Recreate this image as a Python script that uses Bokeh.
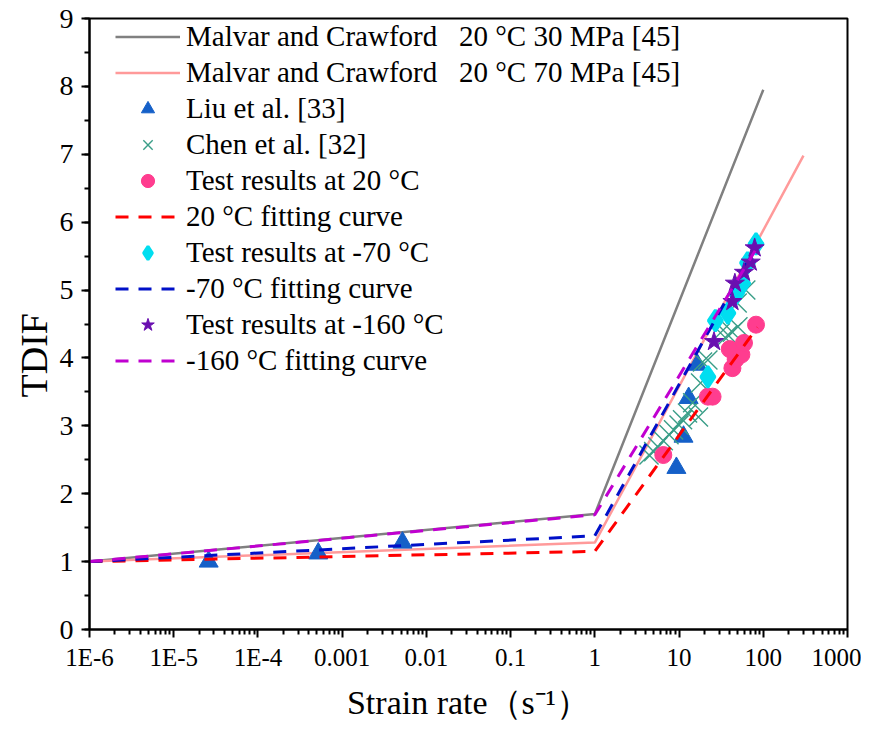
import math
from bokeh.plotting import figure
from bokeh.models import FixedTicker, SingleIntervalTicker, CustomJSTickFormatter, Legend, Title
from bokeh.embed import file_html
from bokeh.resources import INLINE

# ---- data ----
mc30_x = [1e-6, 1, 100]
mc30_y = [1.0, 1.70, 7.95]
mc70_x = [1e-6, 1, 300]
mc70_y = [1.0, 1.28, 6.98]

liu_x = [2.6e-5, 5.2e-4, 5.2e-3, 9.3, 11.3, 13.0, 16.5]
liu_y = [1.0, 1.12, 1.28, 2.38, 2.84, 3.41, 3.90]

chen_x = [4.4, 5.0, 5.6, 6.5, 7.6, 8.6, 10, 11, 12.6, 14.5, 17, 18, 19, 22, 31, 38, 43, 50, 49, 62]
chen_y = [2.57, 2.62, 2.69, 2.78, 2.87, 2.94, 3.01, 3.09, 3.19, 3.34, 3.13, 3.63, 3.94, 3.97,
          4.37, 4.34, 4.38, 4.46, 4.81, 5.00]

t20_x = [6.5, 22, 25, 40, 43, 47, 55, 59, 82]
t20_y = [2.57, 3.43, 3.43, 4.13, 3.85, 3.98, 4.05, 4.22, 4.49]
fit20_x = [1e-6, 1, 85]
fit20_y = [1.0, 1.15, 4.45]

t70_x = [22, 27, 38, 48, 57, 65, 82]
t70_y = [3.72, 4.55, 4.66, 4.95, 5.10, 5.40, 5.68]
fit70_x = [1e-6, 1, 80]
fit70_y = [1.0, 1.38, 5.62]

t160_x = [26, 43, 46, 59, 71, 79]
t160_y = [4.24, 4.83, 5.10, 5.26, 5.41, 5.62]
fit160_x = [1e-6, 1, 80]
fit160_y = [1.0, 1.69, 5.58]

x_ticks = [1e-6, 1e-5, 1e-4, 1e-3, 1e-2, 1e-1, 1, 10, 100, 1000]
x_tick_labels = ["1E-6", "1E-5", "1E-4", "0.001", "0.01", "0.1", "1", "10", "100", "1000"]

FONT = "Liberation Serif"

p = figure(width=861, height=723, x_axis_type="log", x_range=(1e-6, 1000), y_range=(0, 9),
           output_backend="svg", toolbar_location=None,
           min_border_left=89, min_border_right=14, min_border_top=18, min_border_bottom=93)
p.grid.visible = False
p.outline_line_color = "black"
p.outline_line_width = 2
p.background_fill_color = "white"

minor = [m * t for t in x_ticks[:-1] for m in range(2, 10)]
p.xaxis.ticker = FixedTicker(ticks=x_ticks, minor_ticks=minor)
p.xaxis.formatter = CustomJSTickFormatter(args=dict(labels=x_tick_labels),
                                          code="return labels[Math.round(Math.log10(tick)) + 6];")
p.yaxis.ticker = SingleIntervalTicker(interval=1, num_minor_ticks=2)

for ax in (p.xaxis, p.yaxis):
    ax.axis_line_width = 2
    ax.major_tick_line_width = 2
    ax.minor_tick_line_width = 2
    ax.major_tick_in = 0
    ax.major_tick_out = 8
    ax.minor_tick_in = 0
    ax.minor_tick_out = 5
    ax.major_label_text_font = FONT
    ax.major_label_text_color = "black"
    ax.axis_label_text_font = FONT
    ax.axis_label_text_font_style = "normal"
    ax.axis_label_text_color = "black"

p.xaxis.major_label_text_font_size = "25px"
p.yaxis.major_label_text_font_size = "28px"
p.xaxis.axis_label = "Strain rate（s⁻¹）"
p.xaxis.axis_label_text_font_size = "34px"
p.xaxis.axis_label_standoff = 10
p.xaxis.major_label_standoff = 6
p.yaxis.major_label_standoff = 8

# y-axis title, placed lower than centre like the reference
ytitle = Title(text="TDIF", align="left", offset=232, text_font=FONT, text_font_size="38px",
               text_font_style="normal", text_color="black", standoff=4)
p.add_layout(ytitle, "left")

items = []
r = p.line(mc30_x, mc30_y, line_color="#808080", line_width=2.5)
items.append(("Malvar and Crawford \u00a0 20 °C 30 MPa [45]", [r]))
r = p.line(mc70_x, mc70_y, line_color="#ff9a9a", line_width=2.5)
items.append(("Malvar and Crawford \u00a0 20 °C 70 MPa [45]", [r]))
r = p.scatter(liu_x, liu_y, marker="triangle", size=19, fill_color="#1560c8", line_color="#1560c8")
items.append(("Liu et al. [33]", [r]))
r = p.scatter(chen_x, chen_y, marker="x", size=27, line_color="#3a9e88", line_width=1.4)
items.append(("Chen et al. [32]", [r]))
r = p.scatter(t20_x, t20_y, marker="circle", size=17, fill_color="#ff3d8f", line_color="#ff3d8f")
items.append(("Test results at 20 °C", [r]))
r = p.line(fit20_x, fit20_y, line_color="#ff0000", line_width=3, line_dash="13 10")
items.append(("20 °C fitting curve", [r]))
r = p.scatter(t70_x, t70_y, marker="diamond", size=21, line_width=3,
              fill_color="#00def0", line_color="#00def0")
items.append(("Test results at -70 °C", [r]))
r = p.line(fit70_x, fit70_y, line_color="#0010c8", line_width=3, line_dash="13 10")
items.append(("-70 °C fitting curve", [r]))
r = p.scatter(t160_x, t160_y, marker="star", size=20, fill_color="#6a0fb0", line_color="#6a0fb0")
items.append(("Test results at -160 °C", [r]))
r = p.line(fit160_x, fit160_y, line_color="#c000d0", line_width=3, line_dash="13 10")
items.append(("-160 °C fitting curve", [r]))

legend = Legend(items=items, location=(26, 252), padding=2, spacing=3,
                glyph_width=65, glyph_height=33, label_height=33, label_standoff=6,
                label_text_font=FONT, label_text_font_size="29px", label_text_color="black",
                border_line_color=None, background_fill_alpha=0)
p.add_layout(legend)

open("out.html", "w").write(file_html(p, INLINE))
